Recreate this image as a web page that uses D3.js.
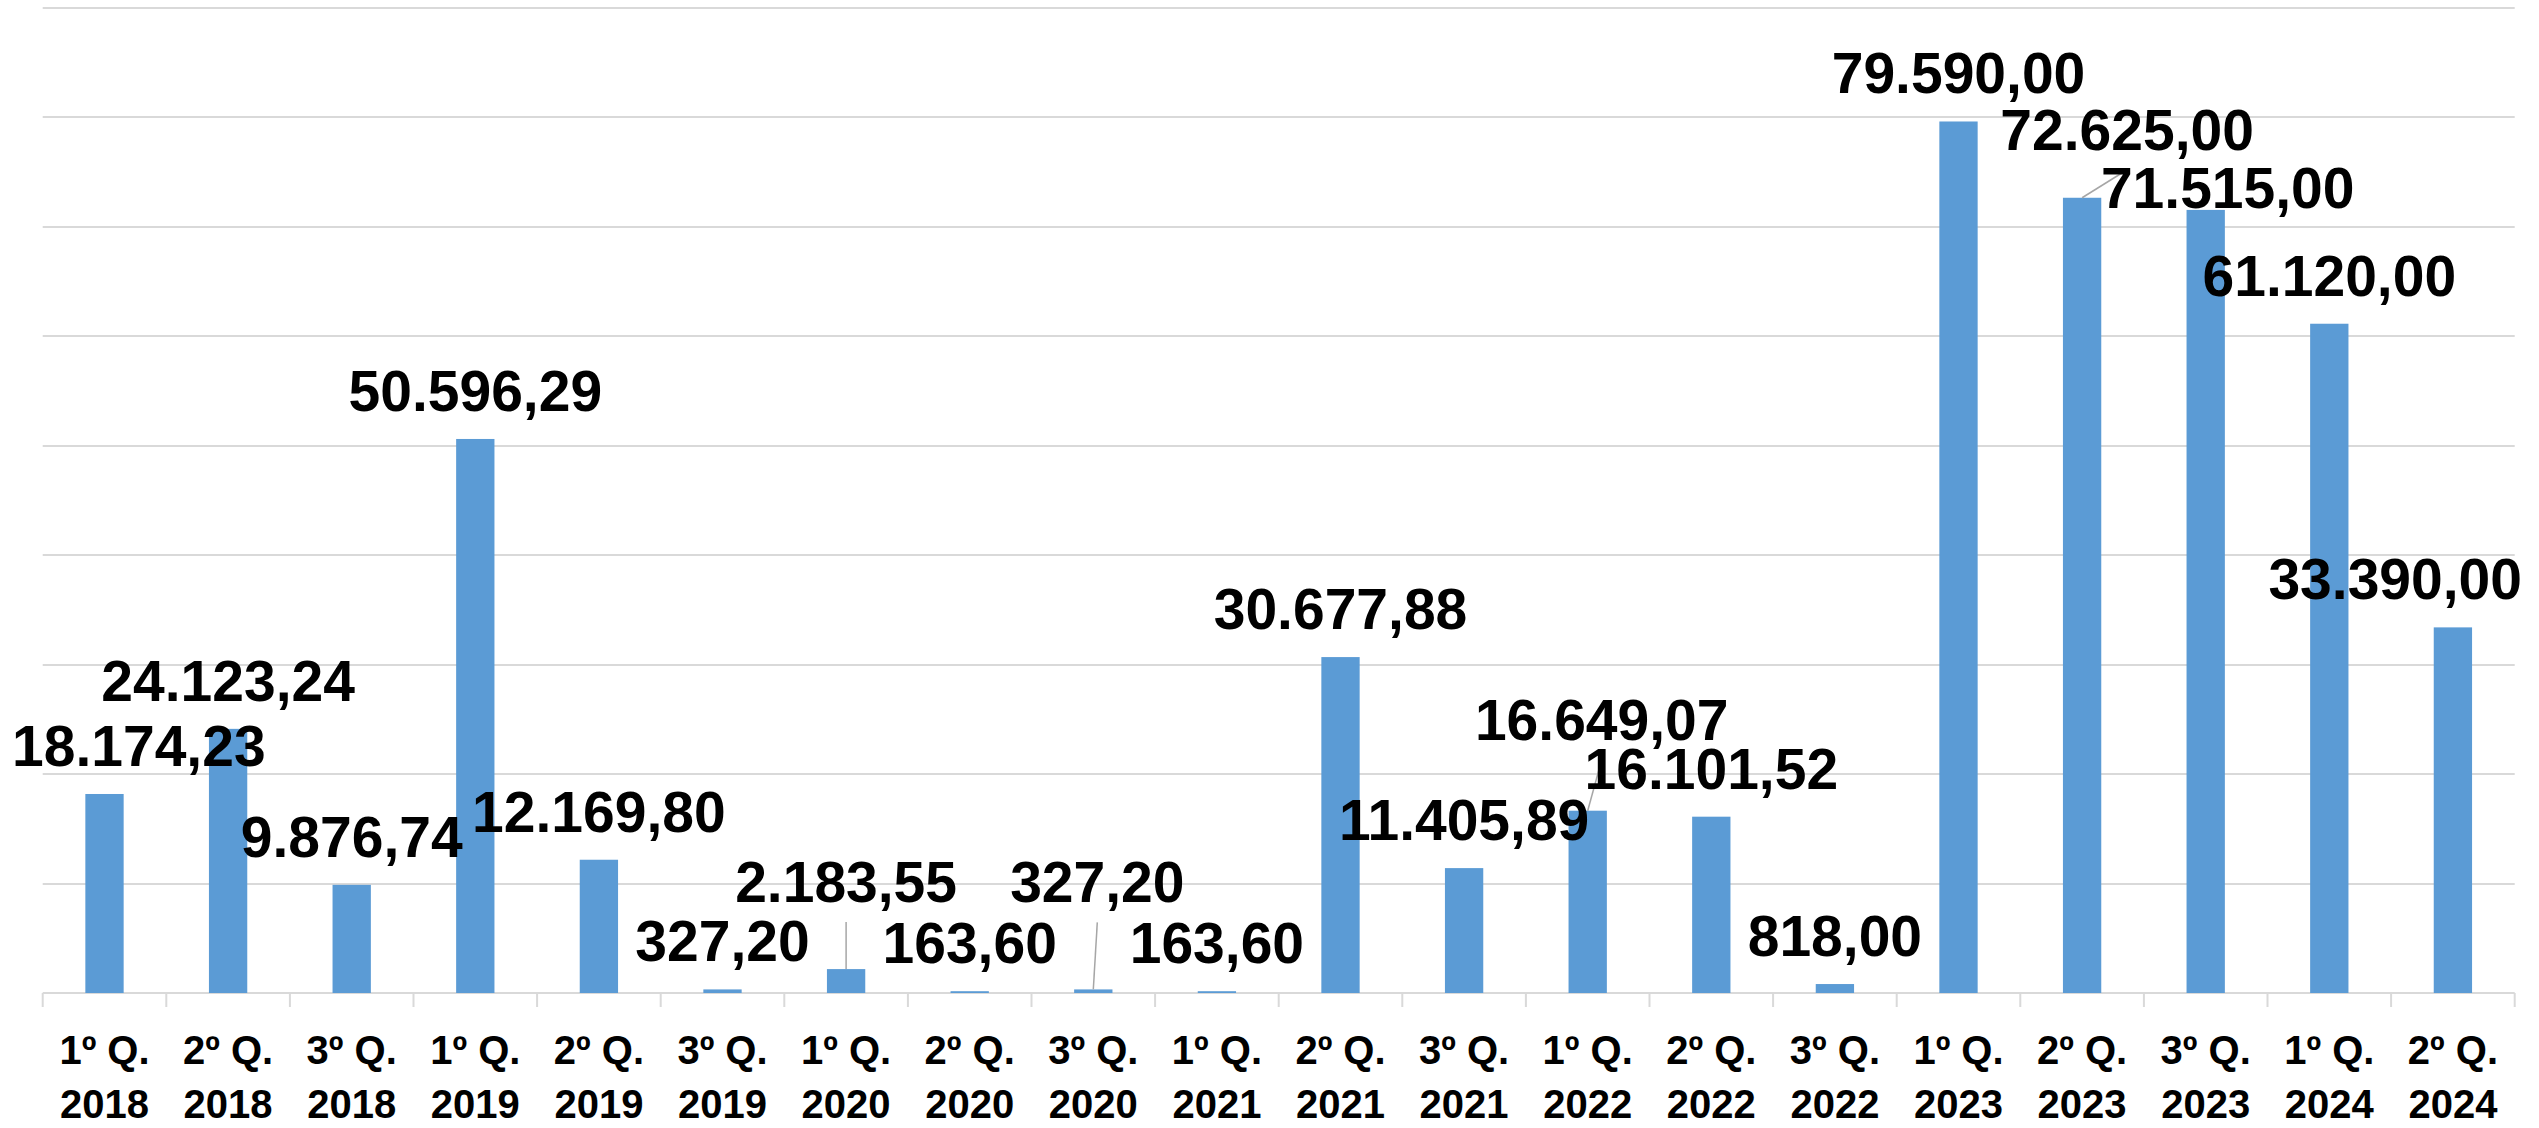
<!DOCTYPE html>
<html>
<head>
<meta charset="utf-8">
<script src="https://cdn.jsdelivr.net/npm/d3@7"></script>
<style>
  html, body { margin: 0; padding: 0; background: #fff; }
  svg { display: block; }
  text { font-family: "Liberation Sans", Arial, sans-serif; font-weight: bold; fill: #000; }
</style>
</head>
<body>
<svg id="chart"></svg>
<script>
// data
var quarters = ["1º Q.", "2º Q.", "3º Q.", "1º Q.", "2º Q.", "3º Q.", "1º Q.", "2º Q.", "3º Q.", "1º Q.",
                "2º Q.", "3º Q.", "1º Q.", "2º Q.", "3º Q.", "1º Q.", "2º Q.", "3º Q.", "1º Q.", "2º Q."];
var years = ["2018", "2018", "2018", "2019", "2019", "2019", "2020", "2020", "2020", "2021",
             "2021", "2021", "2022", "2022", "2022", "2023", "2023", "2023", "2024", "2024"];
var values = [18174.23, 24123.24, 9876.74, 50596.29, 12169.80, 327.20, 2183.55, 163.60, 327.20, 163.60,
              30677.88, 11405.89, 16649.07, 16101.52, 818.00, 79590.00, 72625.00, 71515.00, 61120.00, 33390.00];
var yTicks = [0, 10000, 20000, 30000, 40000, 50000, 60000, 70000, 80000, 90000];

// labels that were dragged away from their bar in the original (pixels)
var labelMoves = {
    6:  { dx: 0,  dy: -39, leader: true },
    8:  { dx: 4,  dy: -59, leader: true },
    12: { dx: 14, dy: -43, leader: true },
    16: { dx: 45, dy: -20, leader: true },
    17: { dx: 22, dy: 26,  leader: false }
};

function drawChart() {
    var width = 2539, height = 1128,
        m = { left: 42.7, right: 2514.7, top: 7.5, bottom: 993 },
        barColor = "#5B9BD5",
        gridColor = "#D9D9D9";

    var svg = d3.select("#chart").attr("width", width).attr("height", height);

    var keys = values.map(function (d, i) { return i; });

    var x = d3.scaleBand().domain(keys).range([m.left, m.right])
        .paddingInner(0.69).paddingOuter(0.345);
    var xCell = d3.scaleBand().domain(keys).range([m.left, m.right]);
    var y = d3.scaleLinear().domain([0, 90000]).range([m.bottom, m.top]);

    var fmt = d3.formatLocale({ decimal: ",", thousands: ".", grouping: [3], currency: ["R$", ""] }).format(",.2f");

    // gridlines + axis line
    svg.append("g").selectAll("line")
        .data(yTicks)
        .enter().append("line")
        .attr("x1", m.left).attr("x2", m.right)
        .attr("y1", function (d) { return Math.round(y(d)); })
        .attr("y2", function (d) { return Math.round(y(d)); })
        .attr("stroke", gridColor)
        .attr("stroke-width", 2);

    // category tick marks between bands
    var tickX = keys.map(function (k) { return xCell(k); }).concat([m.right]);
    svg.append("g").selectAll("line")
        .data(tickX)
        .enter().append("line")
        .attr("x1", function (d) { return d; }).attr("x2", function (d) { return d; })
        .attr("y1", m.bottom).attr("y2", m.bottom + 14)
        .attr("stroke", gridColor)
        .attr("stroke-width", 2);

    // bars
    svg.append("g").selectAll("rect")
        .data(values)
        .enter().append("rect")
        .attr("x", function (d, i) { return x(i); })
        .attr("width", x.bandwidth())
        .attr("y", function (d) { return y(d); })
        .attr("height", function (d) { return m.bottom - y(d); })
        .attr("fill", barColor);

    // category labels
    var cats = svg.append("g");
    cats.selectAll("text.q")
        .data(quarters)
        .enter().append("text")
        .attr("class", "q")
        .attr("x", function (d, i) { return x(i) + x.bandwidth() / 2; })
        .attr("y", 1064)
        .attr("text-anchor", "middle")
        .attr("font-size", 40)
        .text(function (d) { return d; });
    cats.selectAll("text.yr")
        .data(years)
        .enter().append("text")
        .attr("class", "yr")
        .attr("x", function (d, i) { return x(i) + x.bandwidth() / 2; })
        .attr("y", 1118)
        .attr("text-anchor", "middle")
        .attr("font-size", 40)
        .text(function (d) { return d; });

    // data labels (leaders drawn under the text)
    var leaders = svg.append("g");
    var labels = svg.append("g");

    values.forEach(function (v, i) {
        var cx = x(i) + x.bandwidth() / 2,
            by = y(v) - 28,
            mv = labelMoves[i] || { dx: 0, dy: 0, leader: false };
        var t = labels.append("text")
            .attr("font-size", 57)
            .attr("text-anchor", "middle")
            .text(fmt(v));
        var w = t.node().getComputedTextLength();
        var lx = cx + mv.dx, ly = by + mv.dy;
        // keep label inside chart area
        if (lx - w / 2 < 12) lx = 12 + w / 2;
        if (lx + w / 2 > 2522) lx = 2522 - w / 2;
        t.attr("x", lx).attr("y", ly);
        if (mv.leader) {
            leaders.append("line")
                .attr("x1", cx).attr("y1", y(v))
                .attr("x2", lx).attr("y2", ly + 20)
                .attr("stroke", "#A6A6A6")
                .attr("stroke-width", 1.5);
        }
    });
}

drawChart();
</script>
</body>
</html>
